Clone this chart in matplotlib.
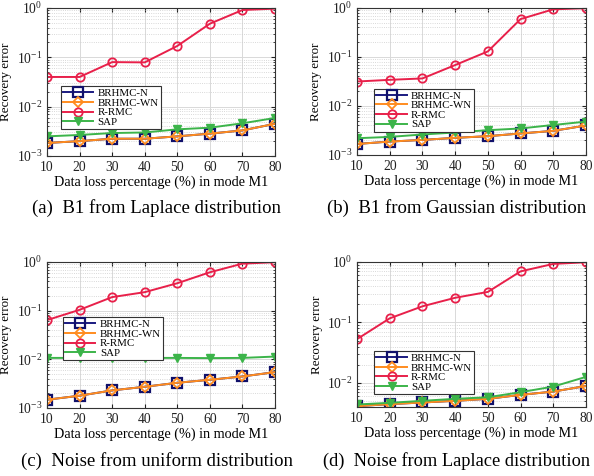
import matplotlib
matplotlib.use("Agg")
import matplotlib.pyplot as plt
from matplotlib.ticker import LogLocator, NullFormatter

plt.rcParams['font.family'] = ['Liberation Serif', 'DejaVu Serif']
plt.rcParams['mathtext.fontset'] = 'custom'
plt.rcParams['mathtext.rm'] = 'Liberation Serif'
plt.rcParams['mathtext.it'] = 'Liberation Serif:italic'

x = [10, 20, 30, 40, 50, 60, 70, 80]
series_names = ['BRHMC-N', 'BRHMC-WN', 'R-RMC', 'SAP']

# (a) B1 from Laplace distribution
a_brhmc_n = [0.00184, 0.0020, 0.00224, 0.00224, 0.0025, 0.00284, 0.0033, 0.0045]
a_brhmc_wn = [0.00184, 0.0020, 0.00224, 0.00224, 0.0025, 0.00284, 0.0033, 0.0045]
a_rrmc = [0.040, 0.040, 0.080, 0.079, 0.17, 0.48, 0.91, 0.97]
a_sap = [0.0025, 0.00267, 0.00292, 0.0030, 0.00347, 0.00375, 0.0046, 0.0059]

# (b) B1 from Gaussian distribution
b_brhmc_n = [0.00168, 0.00188, 0.00203, 0.00224, 0.00242, 0.00275, 0.00311, 0.0040]
b_brhmc_wn = [0.00168, 0.00188, 0.00203, 0.00224, 0.00242, 0.00275, 0.00311, 0.0040]
b_rrmc = [0.0316, 0.0342, 0.0365, 0.0685, 0.13, 0.594, 0.94, 0.99]
b_sap = [0.0022, 0.00234, 0.00262, 0.00288, 0.00321, 0.00348, 0.0041, 0.0048]

# (c) Noise from uniform distribution
c_brhmc_n = [0.00148, 0.00179, 0.0023, 0.00273, 0.0033, 0.0038, 0.00445, 0.00546]
c_brhmc_wn = [0.00148, 0.00179, 0.0023, 0.00273, 0.0033, 0.0038, 0.00445, 0.00546]
c_rrmc = [0.064, 0.104, 0.19, 0.24, 0.366, 0.615, 0.925, 0.99]
c_sap = [0.0107, 0.0107, 0.0107, 0.0107, 0.0107, 0.0106, 0.0107, 0.0114]

# (d) Noise from Laplace distribution
d_brhmc_n = [0.00413, 0.00446, 0.00475, 0.00506, 0.00546, 0.00635, 0.0072, 0.0089]
d_brhmc_wn = [0.00413, 0.00446, 0.00475, 0.00506, 0.00546, 0.00635, 0.0072, 0.0089]
d_rrmc = [0.053, 0.117, 0.185, 0.256, 0.32, 0.70, 0.93, 0.99]
d_sap = [0.0044, 0.00469, 0.00506, 0.00546, 0.0058, 0.00703, 0.0087, 0.0126]

captions = ['(a)  B1 from Laplace distribution',
            '(b)  B1 from Gaussian distribution',
            '(c)  Noise from uniform distribution',
            '(d)  Noise from Laplace distribution']
xlabel = 'Data loss percentage (%) in mode M1'
ylabel = 'Recovery error'

panels = [
    (a_brhmc_n, a_brhmc_wn, a_rrmc, a_sap),
    (b_brhmc_n, b_brhmc_wn, b_rrmc, b_sap),
    (c_brhmc_n, c_brhmc_wn, c_rrmc, c_sap),
    (d_brhmc_n, d_brhmc_wn, d_rrmc, d_sap),
]

W, H = 594, 476
fig = plt.figure(figsize=(W / 100, H / 100), dpi=100)

# pixel boxes: left, top, right, bottom
boxes = [(47, 8, 275, 156), (357, 8, 586, 155),
         (47, 262, 275, 408), (357, 262, 586, 407)]
ylims = [(1e-3, 1), (1e-3, 1), (1e-3, 1), (4e-3, 1)]
legend_anchor = [(0.06, 0.47), (0.075, 0.45), (0.07, 0.62), (0.075, 0.385)]
caption_pos = [(32, 208, 13.5), (327, 208, 13.5), (21, 461, 13.5), (323, 461, 13.2)]

styles = [
    dict(color='#1a1a80', marker='s', mfc='none', mec='#10106a', ms=7, mew=1.6),
    dict(color='#ff8c1f', marker='D', mfc='none', mec='#ff8c1f', ms=5.5, mew=1.3),
    dict(color='#e8204a', marker='o', mfc='none', mec='#e8204a', ms=6, mew=1.3),
    dict(color='#3cb44a', marker='v', mfc='#3cb44a', mec='#3cb44a', ms=6, mew=1.0),
]

for i, (box, data) in enumerate(zip(boxes, panels)):
    l, t, r, b = box
    ax = fig.add_axes([l / W, 1 - b / H, (r - l) / W, (b - t) / H])
    for name, vals, st in zip(series_names, data, styles):
        ax.plot(x, vals, lw=1.4, label=name, **st)
    ax.set_yscale('log')
    ax.set_xlim(10, 80)
    ax.set_ylim(*ylims[i])
    ax.set_xticks(x)
    ax.yaxis.set_major_locator(LogLocator(base=10, numticks=10))
    ax.yaxis.set_minor_locator(LogLocator(base=10, subs=range(2, 10), numticks=20))
    ax.yaxis.set_minor_formatter(NullFormatter())
    ax.grid(True, which='major', color='#d9d9d9', lw=0.7, ls='-')
    ax.grid(True, which='minor', axis='y', color='#cccccc', lw=0.6, ls=':')
    ax.set_axisbelow(True)
    ax.tick_params(direction='in', which='both', top=True, right=True,
                   labelsize=9.8, colors='#222222', length=3)
    ax.tick_params(which='minor', length=1.5)
    for s in ax.spines.values():
        s.set_color('#333333')
        s.set_linewidth(0.8)
    ax.set_xlabel(xlabel, fontsize=10.2, labelpad=1)
    ax.set_ylabel(ylabel, fontsize=9.4, labelpad=3)
    leg = ax.legend(loc='upper left', bbox_to_anchor=legend_anchor[i],
                    fontsize=7.8, frameon=True, fancybox=False, framealpha=1,
                    edgecolor='#333333', handlelength=2.8, borderpad=0.2,
                    labelspacing=0.0, handletextpad=0.4, borderaxespad=0)
    leg.get_frame().set_linewidth(0.8)
    cx, cy, fs = caption_pos[i]
    fig.text(cx / W, 1 - cy / H, captions[i], fontsize=fs, ha='left', va='center')

fig.savefig('out.png', dpi=100)
